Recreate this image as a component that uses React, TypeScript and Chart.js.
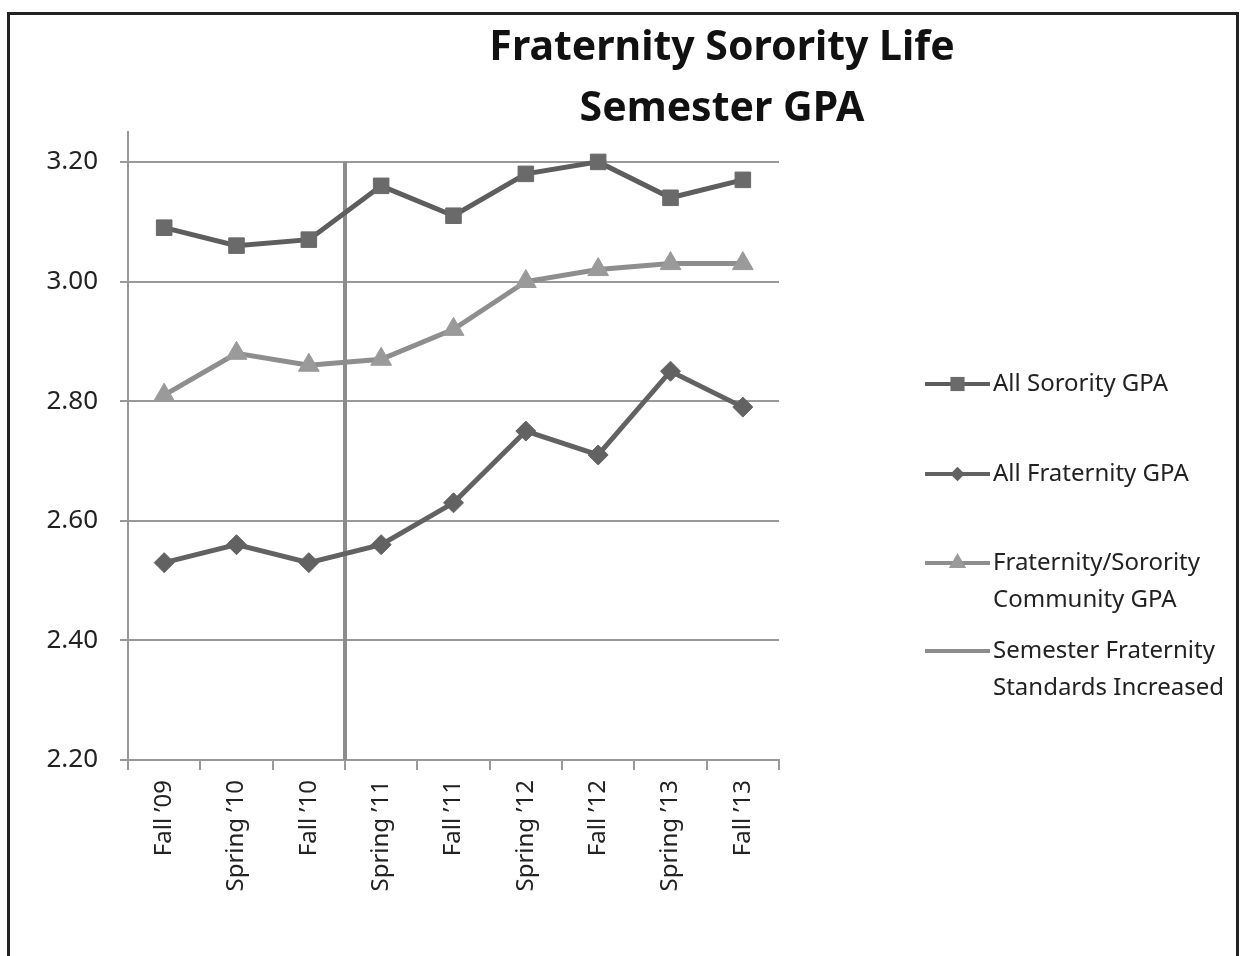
import React, { useEffect, useRef } from "react";
import { Chart, registerables } from "chart.js";

Chart.register(...registerables);

// ---------- data ----------
const categories = [
  "Fall ’09",
  "Spring ’10",
  "Fall ’10",
  "Spring ’11",
  "Fall ’11",
  "Spring ’12",
  "Fall ’12",
  "Spring ’13",
  "Fall ’13",
];
const sororityGPA = [3.09, 3.06, 3.07, 3.16, 3.11, 3.18, 3.2, 3.14, 3.17];
const fraternityGPA = [2.53, 2.56, 2.53, 2.56, 2.63, 2.75, 2.71, 2.85, 2.79];
const communityGPA = [2.81, 2.88, 2.86, 2.87, 2.92, 3.0, 3.02, 3.03, 3.03];
// vertical marker between Fall '10 (index 2) and Spring '11 (index 3)
const standardsIndex = 2.5;
const standardsRange = [2.2, 3.2];
const yTickValues = [2.2, 2.4, 2.6, 2.8, 3.0, 3.2];
const yTickLabels = ["2.20", "2.40", "2.60", "2.80", "3.00", "3.20"];
const titleLines = ["Fraternity Sorority Life", "Semester GPA"];
const legendLabels = [
  ["All Sorority GPA"],
  ["All Fraternity GPA"],
  ["Fraternity/Sorority", "Community GPA"],
  ["Semester Fraternity", "Standards Increased"],
];

// ---------- style ----------
const FONT = "'Noto Sans', 'DejaVu Sans', sans-serif";
const TEXT = "#222222";
const GRID = "#999999";
const C_SOR = "#5e5e5e";
const C_SOR_PT = "#6a6a6a";
const C_FRAT = "#626262";
const C_COMM = "#8e8e8e";
const C_COMM_PT = "#9a9a9a";
const C_STD = "#8c8c8c";

const titlePlugin = {
  id: "customTitle",
  afterDraw(chart: any) {
    const ctx = chart.ctx;
    ctx.save();
    ctx.fillStyle = "#111111";
    ctx.font = `bold 41px ${FONT}`;
    ctx.textAlign = "center";
    ctx.textBaseline = "middle";
    const cx = 722;
    ctx.fillText(titleLines[0], cx, 48);
    ctx.fillText(titleLines[1], cx, 109);
    ctx.restore();
  },
};

function drawMarker(ctx: CanvasRenderingContext2D, style: string, x: number, y: number, r: number, color: string) {
  ctx.fillStyle = color;
  ctx.beginPath();
  if (style === "rect") {
    const s = Math.SQRT1_2 * r;
    ctx.rect(x - s, y - s, 2 * s, 2 * s);
  } else if (style === "rectRot") {
    const s = r * 0.9;
    ctx.moveTo(x - s, y);
    ctx.lineTo(x, y - s);
    ctx.lineTo(x + s, y);
    ctx.lineTo(x, y + s);
    ctx.closePath();
  } else if (style === "triangle") {
    ctx.moveTo(x, y - r);
    ctx.lineTo(x + r * 0.866, y + r * 0.5);
    ctx.lineTo(x - r * 0.866, y + r * 0.5);
    ctx.closePath();
  }
  ctx.fill();
}

const legendPlugin = {
  id: "customLegend",
  afterDraw(chart: any) {
    const ctx = chart.ctx;
    const ys = [384, 474, 563, 651];
    const x0 = 925;
    const x1 = 990;
    const tx = 993;
    const lh = 37;
    ctx.save();
    chart.data.datasets.forEach((ds: any, i: number) => {
      const y = ys[i];
      ctx.strokeStyle = ds.borderColor;
      ctx.lineWidth = 4;
      ctx.beginPath();
      ctx.moveTo(x0, y);
      ctx.lineTo(x1, y);
      ctx.stroke();
      if (ds.pointStyle && ds.pointRadius > 0) {
        drawMarker(ctx, ds.pointStyle, (x0 + x1) / 2, y, ds.legendMarkerRadius, ds.pointBackgroundColor);
      }
      ctx.fillStyle = TEXT;
      ctx.font = `24px ${FONT}`;
      ctx.textAlign = "left";
      ctx.textBaseline = "middle";
      legendLabels[i].forEach((line, j) => ctx.fillText(line, tx, y + j * lh));
    });
    ctx.restore();
  },
};

export default function App() {
  const ref = useRef<HTMLCanvasElement | null>(null);

  useEffect(() => {
    if (!ref.current) return;
    const chart = new Chart(ref.current, {
      type: "line",
      data: {
        labels: categories,
        datasets: [
          {
            label: legendLabels[0].join(" "),
            data: sororityGPA,
            borderColor: C_SOR,
            borderWidth: 5,
            pointStyle: "rect",
            pointRadius: 11,
            pointBackgroundColor: C_SOR_PT,
            pointBorderColor: C_SOR_PT,
            pointBorderWidth: 1,
            legendMarkerRadius: 10,
            tension: 0,
          } as any,
          {
            label: legendLabels[1].join(" "),
            data: fraternityGPA,
            borderColor: C_FRAT,
            borderWidth: 5,
            pointStyle: "rectRot",
            pointRadius: 10,
            pointBackgroundColor: C_FRAT,
            pointBorderColor: C_FRAT,
            pointBorderWidth: 1,
            legendMarkerRadius: 8,
            tension: 0,
          } as any,
          {
            label: legendLabels[2].join(" "),
            data: communityGPA,
            borderColor: C_COMM,
            borderWidth: 5,
            pointStyle: "triangle",
            pointRadius: 12,
            pointBackgroundColor: C_COMM_PT,
            pointBorderColor: C_COMM_PT,
            pointBorderWidth: 1,
            legendMarkerRadius: 10,
            tension: 0,
          } as any,
          {
            label: legendLabels[3].join(" "),
            data: standardsRange.map((v) => ({ x: standardsIndex, y: v })),
            xAxisID: "x2",
            borderColor: C_STD,
            borderWidth: 4,
            pointRadius: 0,
            pointStyle: false,
            tension: 0,
          } as any,
        ],
      },
      options: {
        animation: false,
        responsive: false,
        maintainAspectRatio: false,
        layout: { padding: { left: 0, right: 465, top: 132, bottom: 0 } },
        plugins: {
          legend: { display: false },
          title: { display: false },
          tooltip: { enabled: false },
        },
        scales: {
          x: {
            type: "category",
            offset: true,
            afterFit(scale: any) {
              scale.height = 196;
            },
            grid: {
              display: true,
              offset: true,
              drawOnChartArea: false,
              drawTicks: true,
              tickLength: 10,
              color: GRID,
              lineWidth: 2,
            },
            border: { display: true, color: GRID, width: 2 },
            ticks: {
              autoSkip: false,
              maxRotation: 90,
              minRotation: 90,
              padding: 10,
              color: TEXT,
              font: { family: FONT, size: 24 },
            },
          },
          x2: {
            type: "linear",
            display: false,
            min: -0.5,
            max: categories.length - 0.5,
          },
          y: {
            type: "linear",
            min: 2.2,
            max: 3.25,
            afterFit(scale: any) {
              scale.width = 128;
            },
            afterBuildTicks(scale: any) {
              scale.ticks = yTickValues.map((v) => ({ value: v }));
            },
            grid: {
              color: GRID,
              lineWidth: 2,
              drawTicks: true,
              tickLength: 8,
            },
            border: { display: true, color: GRID, width: 2 },
            ticks: {
              padding: 22,
              color: TEXT,
              font: { family: FONT, size: 26 },
              callback: (_v: any, i: number) => yTickLabels[i],
            },
          },
        },
      },
      plugins: [titlePlugin, legendPlugin],
    });
    return () => chart.destroy();
  }, []);

  return (
    <div style={{ position: "fixed", left: 0, top: 0, width: 1244, height: 956, overflow: "hidden", background: "#ffffff" }}>
      <div
        style={{
          position: "absolute",
          left: 7,
          top: 12,
          width: 1226,
          height: 1000,
          border: "3px solid #222222",
          boxSizing: "content-box",
        }}
      />
      <canvas ref={ref} width={1244} height={956} style={{ position: "absolute", left: 0, top: 0, display: "block" }} />
    </div>
  );
}
